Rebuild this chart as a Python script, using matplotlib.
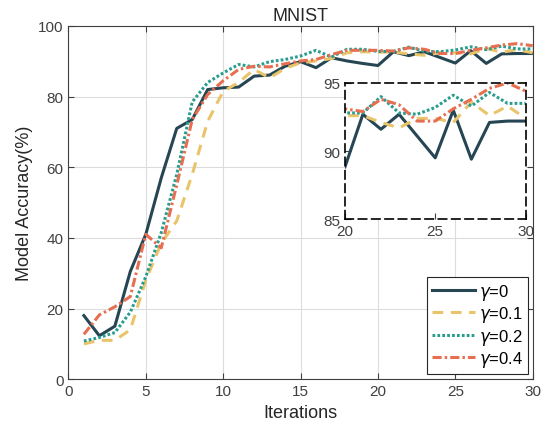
import numpy as np
import matplotlib
matplotlib.use("Agg")
import matplotlib.pyplot as plt

plt.rcParams['font.family'] = ['Liberation Sans', 'DejaVu Sans']
plt.rcParams['mathtext.fontset'] = 'dejavusans'

iters = np.arange(1, 31)
acc_g0 = [18, 12.3, 15, 30.5, 41, 57, 71, 73.5, 82, 82.5, 82.7, 85.8, 86.1, 88.6, 89.9,
          88.2, 91.0, 90.1, 89.4, 88.8, 92.7, 91.6, 92.7, 91.1, 89.5, 93.0, 89.4, 92.1, 92.2, 92.2]
acc_g1 = [10, 11, 11, 14, 28, 38.5, 44.8, 58, 73, 81.5, 84, 87.7, 85.3, 88, 89.6,
          90.1, 90.8, 92.4, 92.7, 92.6, 92.6, 92.1, 91.7, 92.4, 92.4, 92.1, 93.6, 92.6, 93.3, 92.4]
acc_g2 = [10.8, 11.8, 13.2, 19, 29, 41.5, 58, 78.5, 84, 86.7, 89.1, 88.4, 89.9, 90.5, 91.5,
          93.1, 91.2, 93.4, 93.4, 92.8, 92.8, 94.0, 92.8, 92.7, 93.2, 94.1, 93.3, 94.3, 93.5, 93.5]
acc_g4 = [12.7, 18.2, 20.5, 23.4, 41, 37.2, 55, 73.5, 80.6, 84.5, 87.7, 88.6, 88.4, 89.3, 90.1,
          90.5, 91.9, 93.1, 93.1, 93.1, 92.9, 93.8, 93.4, 92.2, 92.2, 93.1, 93.8, 94.6, 95.0, 94.4]
labels = [r'$\gamma$=0', r'$\gamma$=0.1', r'$\gamma$=0.2', r'$\gamma$=0.4']

colors = ['#264653', '#e9c46a', '#2a9d8f', '#e76f51']
styles = ['-', (0, (3.5, 2.5)), (0, (0.9, 0.7)), (0, (3, 1, 0.8, 1))]
series = [acc_g0, acc_g1, acc_g2, acc_g4]
tick_col = '#404040'


def style_axes(ax):
    ax.tick_params(direction='in', colors=tick_col, labelsize=11, length=4,
                   top=True, right=True)
    for s in ax.spines.values():
        s.set_color(tick_col)
        s.set_linewidth(0.8)


fig = plt.figure(figsize=(5.43, 4.35), dpi=100)
ax = fig.add_axes([0.126, 0.126, 0.855, 0.812])
for y, c, ls, lab in zip(series, colors, styles, labels):
    ax.plot(iters, y, color=c, linestyle=ls, lw=2.2, label=lab)
ax.set_xlim(0, 30)
ax.set_ylim(0, 100)
ax.set_xticks(range(0, 31, 5))
ax.set_yticks(range(0, 101, 20))
ax.grid(True, color='#dcdcdc', lw=0.8)
ax.set_axisbelow(True)
style_axes(ax)
ax.set_xlabel('Iterations', fontsize=13, color='#262626')
ax.set_ylabel('Model Accuracy(%)', fontsize=13, color='#262626')
ax.set_title('MNIST', fontsize=13, color='#262626', pad=4)
leg = ax.legend(loc='lower right', fontsize=12, handlelength=2.6, labelspacing=0.15,
                borderaxespad=0.3, fancybox=False, framealpha=1, handletextpad=0.2,
                borderpad=0.3)
leg.get_frame().set_edgecolor('#262626')
leg.get_frame().set_linewidth(0.8)

ins = fig.add_axes([0.635, 0.494, 0.333, 0.313])
for y, c, ls in zip(series, colors, styles):
    ins.plot(iters, y, color=c, linestyle=ls, lw=2.2)
ins.set_xlim(20, 30)
ins.set_ylim(85, 95)
ins.set_xticks([20, 25, 30])
ins.set_yticks([85, 90, 95])
ins.tick_params(direction='in', colors=tick_col, labelsize=11, length=4)
for s in ins.spines.values():
    s.set_color('black')
    s.set_linestyle((0, (5, 3)))
    s.set_linewidth(1.2)

fig.savefig('out.png', dpi=100)
